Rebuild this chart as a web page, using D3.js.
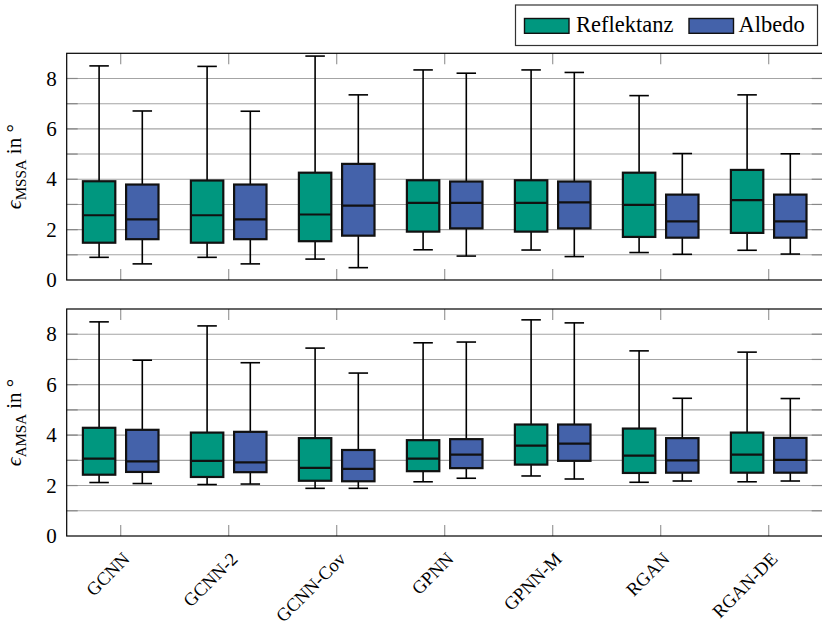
<!DOCTYPE html>
<html>
<head>
<meta charset="utf-8">
<script src="https://cdn.jsdelivr.net/npm/d3@7"></script>
<style>
  html, body { margin: 0; padding: 0; background: #fff; }
  svg { display: block; }
  svg text { font-family: "Liberation Serif", "DejaVu Serif", serif; }
</style>
</head>
<body>
<svg id="chart" width="822" height="628" font-family="Liberation Serif, serif"></svg>
<script>
// ---------- DATA ----------
const categories = ["GCNN", "GCNN-2", "GCNN-Cov", "GPNN", "GPNN-M", "RGAN", "RGAN-DE"];
const seriesNames = ["Reflektanz", "Albedo"];
const yTickValues = [0, 2, 4, 6, 8];

// each entry: [lower whisker, Q1, median, Q3, upper whisker]
const mssaReflektanz = [
  [0.90, 1.48, 2.57, 3.92, 8.50],
  [0.90, 1.48, 2.57, 3.95, 8.48],
  [0.83, 1.54, 2.60, 4.26, 8.89],
  [1.20, 1.92, 3.06, 3.96, 8.34],
  [1.19, 1.92, 3.06, 3.96, 8.34],
  [1.09, 1.71, 2.98, 4.26, 7.32],
  [1.18, 1.87, 3.17, 4.37, 7.35]
];
const mssaAlbedo = [
  [0.64, 1.62, 2.41, 3.79, 6.71],
  [0.64, 1.62, 2.41, 3.79, 6.70],
  [0.49, 1.76, 2.95, 4.61, 7.35],
  [0.95, 2.05, 3.06, 3.91, 8.21],
  [0.93, 2.05, 3.08, 3.91, 8.24],
  [1.02, 1.68, 2.33, 3.39, 5.02],
  [1.03, 1.68, 2.33, 3.39, 5.01]
];
const amsaReflektanz = [
  [2.12, 2.43, 3.07, 4.29, 8.49],
  [2.04, 2.34, 2.98, 4.10, 8.33],
  [1.89, 2.19, 2.70, 3.88, 7.45],
  [2.15, 2.57, 3.07, 3.80, 7.66],
  [2.38, 2.83, 3.58, 4.42, 8.57],
  [2.13, 2.50, 3.19, 4.26, 7.34],
  [2.15, 2.51, 3.23, 4.10, 7.29]
];
const amsaAlbedo = [
  [2.08, 2.54, 2.96, 4.21, 6.97],
  [2.06, 2.53, 2.92, 4.13, 6.87],
  [1.89, 2.17, 2.66, 3.41, 6.46],
  [2.29, 2.69, 3.23, 3.84, 7.69],
  [2.26, 2.98, 3.66, 4.42, 8.45],
  [2.18, 2.51, 3.00, 3.88, 5.46],
  [2.18, 2.51, 3.02, 3.89, 5.45]
];

// ---------- STYLE / LAYOUT ----------
const colors = ["#00977f", "#4462aa"];
const plotLeft = 66.7, plotRight = 822.7;
const panels = [
  { top: 53.3, bottom: 280, data: [mssaReflektanz, mssaAlbedo], sub: "MSSA" },
  { top: 309, bottom: 536, data: [amsaReflektanz, amsaAlbedo], sub: "AMSA" }
];
const FONT = "Liberation Serif, DejaVu Serif, serif";
const fontSize = 21;

const svg = d3.select("#chart");

const x = d3.scaleBand().domain(categories).range([plotLeft, plotRight]).padding(0);
const bw = x.bandwidth();
const boxW = bw * 0.30;
const offsets = [-bw * 0.20, bw * 0.20];
const capW = 19.5;

panels.forEach((p) => {
  const y = d3.scaleLinear().domain([0, 9]).range([p.bottom, p.top]);
  const g = svg.append("g");

  // grid lines
  g.selectAll("line.grid").data(d3.range(1, 9)).join("line")
    .attr("x1", plotLeft).attr("x2", plotRight)
    .attr("y1", d => y(d)).attr("y2", d => y(d))
    .attr("stroke", "#a4a4a4").attr("stroke-width", 1.1);

  // y ticks (inward, both sides)
  d3.range(1, 9).forEach(v => {
    g.append("line").attr("x1", plotLeft).attr("x2", plotLeft + 11)
      .attr("y1", y(v)).attr("y2", y(v)).attr("stroke", "#888").attr("stroke-width", 1.2);
    g.append("line").attr("x1", plotRight - 11).attr("x2", plotRight)
      .attr("y1", y(v)).attr("y2", y(v)).attr("stroke", "#888").attr("stroke-width", 1.2);
  });
  // x ticks (inward, top and bottom)
  categories.forEach(c => {
    const cx = x(c) + bw / 2;
    g.append("line").attr("x1", cx).attr("x2", cx).attr("y1", p.top).attr("y2", p.top + 11)
      .attr("stroke", "#999").attr("stroke-width", 1.2);
    g.append("line").attr("x1", cx).attr("x2", cx).attr("y1", p.bottom).attr("y2", p.bottom - 11)
      .attr("stroke", "#999").attr("stroke-width", 1.2);
  });

  // y axis labels
  const yAxis = d3.axisLeft(y).tickValues(yTickValues).tickSize(0).tickPadding(10);
  const ag = g.append("g").attr("transform", `translate(${plotLeft},0)`).call(yAxis)
    .attr("font-family", FONT);
  ag.select(".domain").remove();
  ag.selectAll("text").attr("font-size", fontSize).attr("fill", "#000")
    .attr("font-family", FONT);

  // boxes
  p.data.forEach((series, si) => {
    series.forEach((d, ci) => {
      const cx = x(categories[ci]) + bw / 2 + offsets[si];
      const [lw, q1, med, q3, uw] = d;
      const bg = g.append("g");
      // whiskers
      bg.append("line").attr("x1", cx).attr("x2", cx).attr("y1", y(q3)).attr("y2", y(uw))
        .attr("stroke", "#000").attr("stroke-width", 1.6);
      bg.append("line").attr("x1", cx).attr("x2", cx).attr("y1", y(q1)).attr("y2", y(lw))
        .attr("stroke", "#000").attr("stroke-width", 1.6);
      bg.append("line").attr("x1", cx - capW / 2).attr("x2", cx + capW / 2).attr("y1", y(uw)).attr("y2", y(uw))
        .attr("stroke", "#000").attr("stroke-width", 1.6);
      bg.append("line").attr("x1", cx - capW / 2).attr("x2", cx + capW / 2).attr("y1", y(lw)).attr("y2", y(lw))
        .attr("stroke", "#000").attr("stroke-width", 1.6);
      // box
      bg.append("rect").attr("x", cx - boxW / 2).attr("width", boxW)
        .attr("y", y(q3)).attr("height", y(q1) - y(q3))
        .attr("fill", colors[si]).attr("stroke", "#111").attr("stroke-width", 2.2);
      // median
      bg.append("line").attr("x1", cx - boxW / 2).attr("x2", cx + boxW / 2).attr("y1", y(med)).attr("y2", y(med))
        .attr("stroke", "#111").attr("stroke-width", 2.2);
    });
  });

  // frame
  g.append("rect").attr("x", plotLeft).attr("y", p.top)
    .attr("width", plotRight - plotLeft).attr("height", p.bottom - p.top)
    .attr("fill", "none").attr("stroke", "#000").attr("stroke-width", 1.2);

  // y title
  const cy = (p.top + p.bottom) / 2;
  const t = svg.append("text")
    .attr("transform", `translate(21,${cy}) rotate(-90)`)
    .attr("text-anchor", "middle").attr("font-size", 21).attr("fill", "#000")
    .attr("font-family", FONT);
  t.append("tspan").attr("font-style", "italic").attr("font-size", 22).text("ϵ");
  t.append("tspan").attr("font-size", 15).attr("dy", 5).text(p.sub);
  t.append("tspan").attr("dy", -5).text(" in °");
});

// x labels
svg.append("g").selectAll("text").data(categories).join("text")
  .attr("transform", d => `translate(${x(d) + bw / 2 + 5.5},${555.5}) rotate(-45)`)
  .attr("text-anchor", "end").attr("dy", "0.35em")
  .attr("font-family", FONT)
  .attr("font-size", 18.5).attr("fill", "#000")
  .text(d => d);

// legend
const lg = svg.append("g");
lg.append("rect").attr("x", 515.5).attr("y", 5).attr("width", 302).attr("height", 40.5)
  .attr("fill", "#fff").attr("stroke", "#333").attr("stroke-width", 1.2);
const legendItems = [
  { name: seriesNames[0], sx: 524.5, tx: 576 },
  { name: seriesNames[1], sx: 689, tx: 738.5 }
];
legendItems.forEach((it, i) => {
  lg.append("rect").attr("x", it.sx).attr("y", 18.5).attr("width", 44.5).attr("height", 14.8)
    .attr("fill", colors[i]).attr("stroke", "#111").attr("stroke-width", 1.4);
  lg.append("text").attr("x", it.tx).attr("y", 32).attr("font-size", 22.5).attr("fill", "#000")
    .attr("font-family", FONT)
    .text(it.name);
});
</script>
</body>
</html>
